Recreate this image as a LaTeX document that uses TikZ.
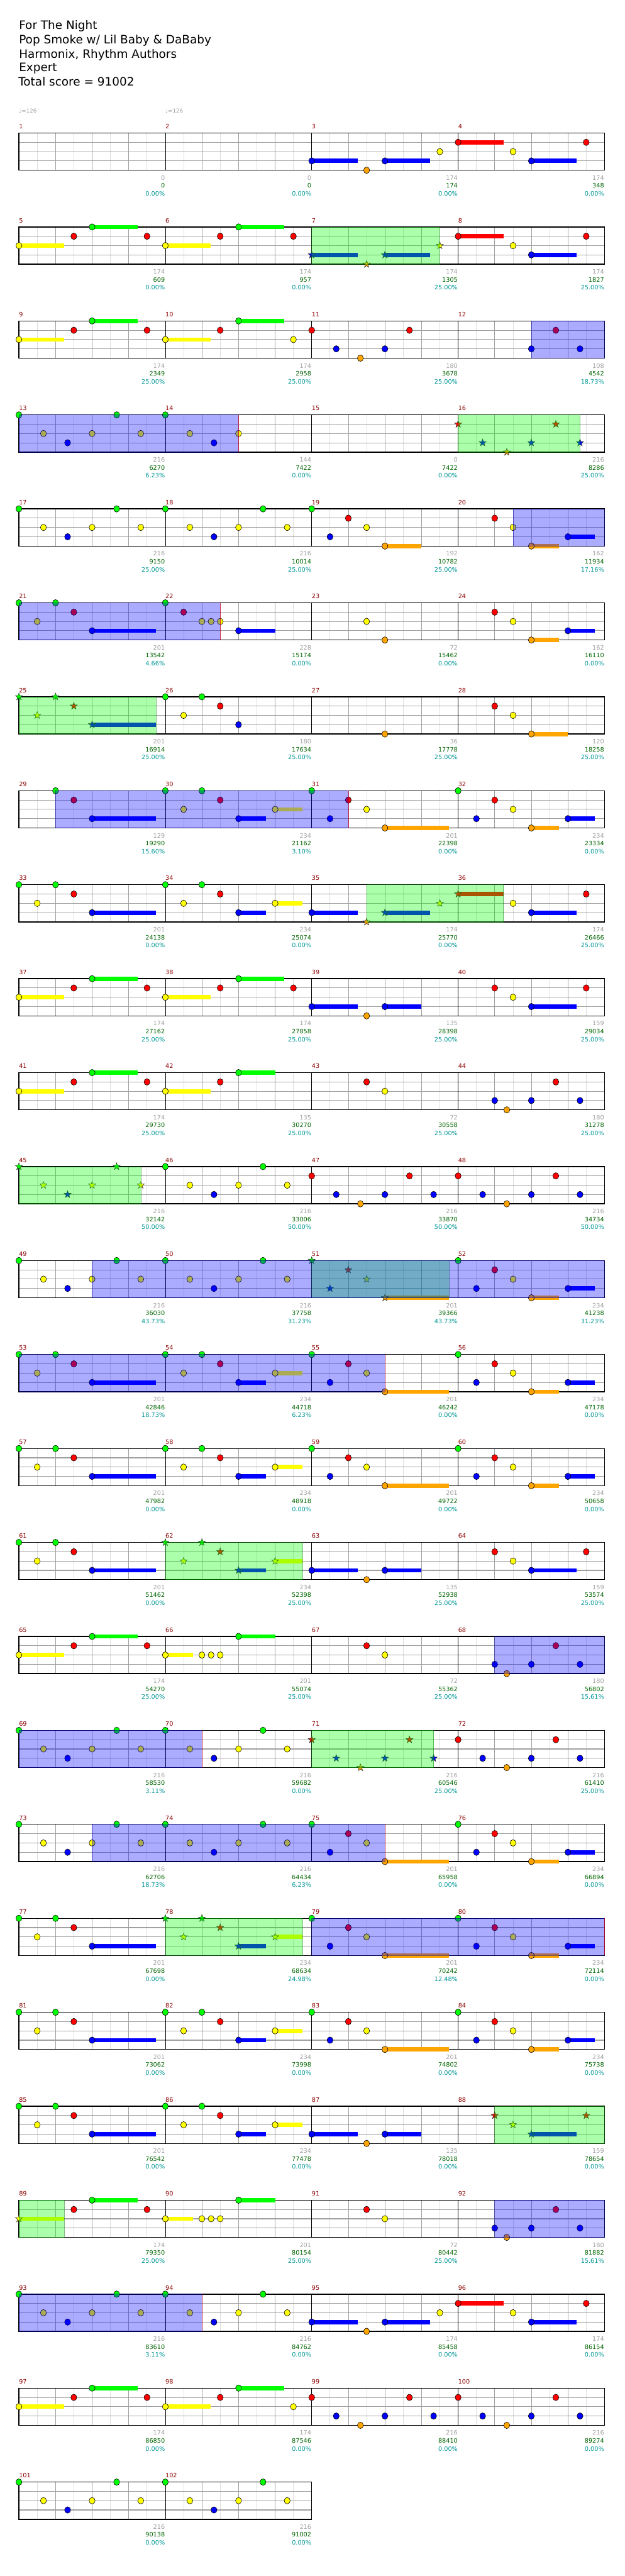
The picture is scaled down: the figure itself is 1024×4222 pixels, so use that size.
\documentclass[tikz,border=0pt]{standalone}
\usepackage{fontspec}
\setmainfont{DejaVu Sans}

\definecolor{fretG}{RGB}{0,255,0}
\definecolor{fretR}{RGB}{255,0,0}
\definecolor{fretY}{RGB}{255,255,0}
\definecolor{fretB}{RGB}{0,0,255}
\definecolor{fretO}{RGB}{255,165,0}
\definecolor{barred}{RGB}{139,0,0}
\definecolor{ptgray}{RGB}{160,160,160}
\definecolor{ptgreen}{RGB}{0,100,0}
\definecolor{ptteal}{RGB}{0,150,150}
\definecolor{gridgray}{RGB}{160,160,160}
\definecolor{gridlight}{RGB}{222,222,222}

% lane of each fret (0 = top line)
\def\laneG{0}\def\laneR{1}\def\laneY{2}\def\laneB{3}\def\laneO{4}

\tikzset{
  title/.style={anchor=base west, inner sep=0pt, font=\fontsize{19}{23}\selectfont},
  tempo/.style={anchor=base west, inner sep=0pt, text=ptgray, font=\fontsize{9}{11}\selectfont},
  barnum/.style={anchor=base west, inner sep=0pt, yshift=7pt, text=barred,
                 font=\fontsize{10}{12}\selectfont},
  pts/.style={anchor=base east, inner sep=0pt, xshift=-0.5pt, font=\fontsize{10}{12}\selectfont},
  halfbeat/.style={draw=gridlight, line width=0.8pt},
  beatline/.style={draw=gridgray, line width=0.8pt},
  laneline/.style={draw=gridgray, line width=1.1pt},
  barline/.style={draw=black, line width=0.8pt},
  staffframe/.style={draw=black, line width=1.4pt},
  gem/.style={draw=black, line width=0.6pt},
  spstar/.style={draw=black!85, line width=0.5pt},
  spzone/.style={fill=fretG, fill opacity=0.33, draw=green!45!black, draw opacity=0.5, line width=0.8pt},
  odzone/.style={fill=fretB, fill opacity=0.33, draw=blue!60!black, draw opacity=0.5, line width=0.8pt},
  odstop/.style={draw=red, line width=0.8pt, draw opacity=0.6},
  chartrow/.style={shift={(31,{218+154*(#1-1)})}, x=60pt, y=-15.25pt}
}

% one staff: #1 = beats in the row
\newcommand{\staff}[1]{%
  \foreach \x in {0.5,1.5,...,#1} \draw[halfbeat] (\x,0) -- (\x,4);
  \foreach \x in {1,...,#1} \draw[beatline] (\x,0) -- (\x,4);
  \foreach \y in {1,2,3} \draw[laneline] (0,\y) -- (#1,\y);
  \foreach \x in {4,8,...,#1} \draw[barline] (\x,0) -- (\x,4);
  \draw[staffframe] (0,0) rectangle (#1,4);}

\newcommand{\gem}[2]{\filldraw[gem, fill=fret#1] (#2,\csname lane#1\endcsname)
  ellipse [x radius=4.9pt, y radius=5.3pt];}
\newcommand{\tail}[3]{\fill[fret#1] ([yshift=3.5pt]#2,\csname lane#1\endcsname)
  rectangle ([yshift=-3.5pt]#3,\csname lane#1\endcsname);}
\newcommand{\spgem}[2]{\filldraw[spstar, fill=fret#1, shift={(#2,\csname lane#1\endcsname)}]
  (90:6.2pt) -- (126:2.5pt) -- (162:6.2pt) -- (198:2.5pt) -- (234:6.2pt) -- (270:2.5pt)
  -- (306:6.2pt) -- (342:2.5pt) -- (18:6.2pt) -- (54:2.5pt) -- cycle;}

\newcommand{\gems}[1]{\foreach \fr/\bt in {#1}{\gem{\fr}{\bt}}}
\newcommand{\tails}[1]{\foreach \fr/\from/\upto in {#1}{\tail{\fr}{\from}{\upto}}}
\newcommand{\spgems}[1]{\foreach \fr/\bt in {#1}{\spgem{\fr}{\bt}}}
\newcommand{\spphrase}[2]{\filldraw[spzone] (#1,0) rectangle (#2,4);}
\newcommand{\odrun}[2]{\filldraw[odzone] (#1,0) rectangle (#2,4);}
\newcommand{\odend}[1]{\draw[odstop] (#1,0) -- (#1,4);}

% bar numbers above, scores below
\newcommand{\bars}[2]{\foreach \c in {1,...,#2}{%
  \pgfmathtruncatemacro\m{#1+\c-1}\node[barnum] (bar\m) at ({4*(\c-1)},0) {\m};}}
\newcommand{\points}[2]{\foreach \gain/\total/\pct [count=\c] in {#2}{%
  \pgfmathtruncatemacro\m{#1+\c-1}
  \node[pts, text=ptgray, yshift=-16pt] (gain\m) at (4*\c,4) {\gain};
  \node[pts, text=ptgreen, yshift=-29pt] (total\m) at (4*\c,4) {\total};
  \node[pts, text=ptteal, yshift=-42pt] (pct\m) at (4*\c,4) {\pct\%};}}

\begin{document}
\begin{tikzpicture}[x=1pt, y=-1pt]
  \fill[white] (0,0) rectangle (1024,4222);
  \path[use as bounding box] (0,0) rectangle (1024,4222);

  % header
  \node[title] (song) at (31,48) {For The Night};
  \node[title] (artist) at (31,71.5) {Pop Smoke w/ Lil Baby \& DaBaby};
  \node[title] (charter) at (31,95) {Harmonix, Rhythm Authors};
  \node[title] (level) at (31,117.5) {Expert};
  \node[title] (score) at (30,141) {Total score = 91002};
  \node[tempo] (tempo1) at (31,185) {♩=126};
  \node[tempo] (tempo2) at (271,185) {♩=126};

  % bars 1-4
  \begin{scope}[chartrow=1]
    \staff{16}
    \tails{B/8/9.25, B/10/11.24, R/12/13.24, B/14/15.24}
    \gems{B/8, O/9.5, B/10, Y/11.5, R/12, Y/13.5, B/14, R/15.5}
    \bars{1}{4}
    \points{1}{0/0/0.00, 0/0/0.00, 174/174/0.00, 174/348/0.00}
  \end{scope}

  % bars 5-8
  \begin{scope}[chartrow=2]
    \staff{16}
    \tails{Y/0/1.24, G/2/3.24, Y/4/5.24, G/6/7.24, B/8/9.25, B/10/11.24, R/12/13.24, B/14/15.24}
    \gems{Y/0, R/1.5, G/2, R/3.5, Y/4, R/5.5, G/6, R/7.5, R/12, Y/13.5, B/14, R/15.5}
    \spgems{B/8, O/9.5, B/10, Y/11.5}
    \spphrase{8}{11.5}
    \bars{5}{4}
    \points{5}{174/609/0.00, 174/957/0.00, 174/1305/25.00, 174/1827/25.00}
  \end{scope}

  % bars 9-12
  \begin{scope}[chartrow=3]
    \staff{16}
    \tails{Y/0/1.24, G/2/3.24, Y/4/5.24, G/6/7.24}
    \gems{Y/0, R/1.5, G/2, R/3.5, Y/4, R/5.5, G/6, Y/7.5, R/8, B/8.67, O/9.33, B/10, R/10.67,
          B/14, R/14.67, B/15.33}
    \odrun{14}{16}
    \bars{9}{4}
    \points{9}{174/2349/25.00, 174/2958/25.00, 180/3678/25.00, 108/4542/18.73}
  \end{scope}

  % bars 13-16
  \begin{scope}[chartrow=4]
    \staff{16}
    \gems{G/0, Y/0.67, B/1.33, Y/2, G/2.67, Y/3.33, G/4, Y/4.67, B/5.33, Y/6}
    \spgems{R/12, B/12.67, O/13.33, B/14, R/14.67, B/15.33}
    \spphrase{12}{15.33}
    \odrun{0}{6}\odend{6}
    \bars{13}{4}
    \points{13}{216/6270/6.23, 144/7422/0.00, 0/7422/0.00, 216/8286/25.00}
  \end{scope}

  % bars 17-20
  \begin{scope}[chartrow=5]
    \staff{16}
    \tails{O/10/11, O/14/14.75, B/15/15.74}
    \gems{G/0, Y/0.67, B/1.33, Y/2, G/2.67, Y/3.33, G/4, Y/4.67, B/5.33, Y/6, G/6.67, Y/7.33,
          G/8, B/8.5, R/9, Y/9.5, O/10, R/13, Y/13.5, O/14, B/15}
    \odrun{13.5}{16}
    \bars{17}{4}
    \points{17}{216/9150/25.00, 216/10014/25.00, 192/10782/25.00, 162/11934/17.16}
  \end{scope}

  % bars 21-24
  \begin{scope}[chartrow=6]
    \staff{16}
    \tails{B/2/3.75, B/6/7, O/14/14.75, B/15/15.74}
    \gems{G/0, Y/0.5, G/1, R/1.5, B/2, G/4, R/4.5, Y/5, Y/5.25, Y/5.5, B/6, Y/9.5, O/10,
          R/13, Y/13.5, O/14, B/15}
    \odrun{0}{5.5}\odend{5.5}
    \bars{21}{4}
    \points{21}{201/13542/4.66, 228/15174/0.00, 72/15462/0.00, 162/16110/0.00}
  \end{scope}

  % bars 25-28
  \begin{scope}[chartrow=7]
    \staff{16}
    \tails{B/2/3.75, O/14/15}
    \gems{G/4, Y/4.5, G/5, R/5.5, B/6, O/10, R/13, Y/13.5, O/14}
    \spgems{G/0, Y/0.5, G/1, R/1.5, B/2}
    \spphrase{0}{3.75}
    \bars{25}{4}
    \points{25}{201/16914/25.00, 180/17634/25.00, 36/17778/25.00, 120/18258/25.00}
  \end{scope}

  % bars 29-32
  \begin{scope}[chartrow=8]
    \staff{16}
    \tails{B/2/3.75, B/6/6.75, Y/7/7.75, O/10/11.75, O/14/14.75, B/15/15.74}
    \gems{G/1, R/1.5, B/2, G/4, Y/4.5, G/5, R/5.5, B/6, Y/7, G/8, B/8.5, R/9, Y/9.5, O/10,
          G/12, B/12.5, R/13, Y/13.5, O/14, B/15}
    \odrun{1}{9}\odend{9}
    \bars{29}{4}
    \points{29}{129/19290/15.60, 234/21162/3.10, 201/22398/0.00, 234/23334/0.00}
  \end{scope}

  % bars 33-36
  \begin{scope}[chartrow=9]
    \staff{16}
    \tails{B/2/3.75, B/6/6.75, Y/7/7.75, B/8/9.25, B/10/11.24, R/12/13.24, B/14/15.24}
    \gems{G/0, Y/0.5, G/1, R/1.5, B/2, G/4, Y/4.5, G/5, R/5.5, B/6, Y/7, B/8, Y/13.5, B/14, R/15.5}
    \spgems{O/9.5, B/10, Y/11.5, R/12}
    \spphrase{9.5}{13.24}
    \bars{33}{4}
    \points{33}{201/24138/0.00, 234/25074/0.00, 174/25770/0.00, 174/26466/25.00}
  \end{scope}

  % bars 37-40
  \begin{scope}[chartrow=10]
    \staff{16}
    \tails{Y/0/1.24, G/2/3.24, Y/4/5.24, G/6/7.24, B/8/9.25, B/10/11, B/14/15.24}
    \gems{Y/0, R/1.5, G/2, R/3.5, Y/4, R/5.5, G/6, R/7.5, B/8, O/9.5, B/10, R/13, Y/13.5, B/14, R/15.5}
    \bars{37}{4}
    \points{37}{174/27162/25.00, 174/27858/25.00, 135/28398/25.00, 159/29034/25.00}
  \end{scope}

  % bars 41-44
  \begin{scope}[chartrow=11]
    \staff{16}
    \tails{Y/0/1.24, G/2/3.24, Y/4/5.24, G/6/7}
    \gems{Y/0, R/1.5, G/2, R/3.5, Y/4, R/5.5, G/6, R/9.5, Y/10, B/13, O/13.33, B/14, R/14.67, B/15.33}
    \bars{41}{4}
    \points{41}{174/29730/25.00, 135/30270/25.00, 72/30558/25.00, 180/31278/25.00}
  \end{scope}

  % bars 45-48
  \begin{scope}[chartrow=12]
    \staff{16}
    \gems{G/4, Y/4.67, B/5.33, Y/6, G/6.67, Y/7.33, R/8, B/8.67, O/9.33, B/10, R/10.67, B/11.33,
          R/12, B/12.67, O/13.33, B/14, R/14.67, B/15.33}
    \spgems{G/0, Y/0.67, B/1.33, Y/2, G/2.67, Y/3.33}
    \spphrase{0}{3.33}
    \bars{45}{4}
    \points{45}{216/32142/50.00, 216/33006/50.00, 216/33870/50.00, 216/34734/50.00}
  \end{scope}

  % bars 49-52
  \begin{scope}[chartrow=13]
    \staff{16}
    \tails{O/10/11.75, O/14/14.75, B/15/15.74}
    \gems{G/0, Y/0.67, B/1.33, Y/2, G/2.67, Y/3.33, G/4, Y/4.67, B/5.33, Y/6, G/6.67, Y/7.33,
          G/12, B/12.5, R/13, Y/13.5, O/14, B/15}
    \spgems{G/8, B/8.5, R/9, Y/9.5, O/10}
    \spphrase{8}{11.75}
    \odrun{2}{16}
    \bars{49}{4}
    \points{49}{216/36030/43.73, 216/37758/31.23, 201/39366/43.73, 234/41238/31.23}
  \end{scope}

  % bars 53-56
  \begin{scope}[chartrow=14]
    \staff{16}
    \tails{B/2/3.75, B/6/6.75, Y/7/7.75, O/10/11.75, O/14/14.75, B/15/15.74}
    \gems{G/0, Y/0.5, G/1, R/1.5, B/2, G/4, Y/4.5, G/5, R/5.5, B/6, Y/7, G/8, B/8.5, R/9, Y/9.5,
          O/10, G/12, B/12.5, R/13, Y/13.5, O/14, B/15}
    \odrun{0}{10}\odend{10}
    \bars{53}{4}
    \points{53}{201/42846/18.73, 234/44718/6.23, 201/46242/0.00, 234/47178/0.00}
  \end{scope}

  % bars 57-60
  \begin{scope}[chartrow=15]
    \staff{16}
    \tails{B/2/3.75, B/6/6.75, Y/7/7.75, O/10/11.75, O/14/14.75, B/15/15.74}
    \gems{G/0, Y/0.5, G/1, R/1.5, B/2, G/4, Y/4.5, G/5, R/5.5, B/6, Y/7, G/8, B/8.5, R/9, Y/9.5,
          O/10, G/12, B/12.5, R/13, Y/13.5, O/14, B/15}
    \bars{57}{4}
    \points{57}{201/47982/0.00, 234/48918/0.00, 201/49722/0.00, 234/50658/0.00}
  \end{scope}

  % bars 61-64
  \begin{scope}[chartrow=16]
    \staff{16}
    \tails{B/2/3.75, B/6/6.75, Y/7/7.75, B/8/9.25, B/10/11, B/14/15.24}
    \gems{G/0, Y/0.5, G/1, R/1.5, B/2, B/8, O/9.5, B/10, R/13, Y/13.5, B/14, R/15.5}
    \spgems{G/4, Y/4.5, G/5, R/5.5, B/6, Y/7}
    \spphrase{4}{7.75}
    \bars{61}{4}
    \points{61}{201/51462/0.00, 234/52398/25.00, 135/52938/25.00, 159/53574/25.00}
  \end{scope}

  % bars 65-68
  \begin{scope}[chartrow=17]
    \staff{16}
    \tails{Y/0/1.24, G/2/3.24, Y/4/4.75, G/6/7}
    \gems{Y/0, R/1.5, G/2, R/3.5, Y/4, Y/5, Y/5.25, Y/5.5, G/6, R/9.5, Y/10,
          B/13, O/13.33, B/14, R/14.67, B/15.33}
    \odrun{13}{16}
    \bars{65}{4}
    \points{65}{174/54270/25.00, 201/55074/25.00, 72/55362/25.00, 180/56802/15.61}
  \end{scope}

  % bars 69-72
  \begin{scope}[chartrow=18]
    \staff{16}
    \gems{G/0, Y/0.67, B/1.33, Y/2, G/2.67, Y/3.33, G/4, Y/4.67, B/5.33, Y/6, G/6.67, Y/7.33,
          R/12, B/12.67, O/13.33, B/14, R/14.67, B/15.33}
    \spgems{R/8, B/8.67, O/9.33, B/10, R/10.67, B/11.33}
    \spphrase{8}{11.33}
    \odrun{0}{5}\odend{5}
    \bars{69}{4}
    \points{69}{216/58530/3.11, 216/59682/0.00, 216/60546/25.00, 216/61410/25.00}
  \end{scope}

  % bars 73-76
  \begin{scope}[chartrow=19]
    \staff{16}
    \tails{O/10/11.75, O/14/14.75, B/15/15.74}
    \gems{G/0, Y/0.67, B/1.33, Y/2, G/2.67, Y/3.33, G/4, Y/4.67, B/5.33, Y/6, G/6.67, Y/7.33,
          G/8, B/8.5, R/9, Y/9.5, O/10, G/12, B/12.5, R/13, Y/13.5, O/14, B/15}
    \odrun{2}{10}\odend{10}
    \bars{73}{4}
    \points{73}{216/62706/18.73, 216/64434/6.23, 201/65958/0.00, 234/66894/0.00}
  \end{scope}

  % bars 77-80
  \begin{scope}[chartrow=20]
    \staff{16}
    \tails{B/2/3.75, B/6/6.75, Y/7/7.75, O/10/11.75, O/14/14.75, B/15/15.74}
    \gems{G/0, Y/0.5, G/1, R/1.5, B/2, G/8, B/8.5, R/9, Y/9.5, O/10, G/12, B/12.5, R/13, Y/13.5,
          O/14, B/15}
    \spgems{G/4, Y/4.5, G/5, R/5.5, B/6, Y/7}
    \spphrase{4}{7.75}
    \odrun{8}{16}\odend{16}
    \bars{77}{4}
    \points{77}{201/67698/0.00, 234/68634/24.98, 201/70242/12.48, 234/72114/0.00}
  \end{scope}

  % bars 81-84
  \begin{scope}[chartrow=21]
    \staff{16}
    \tails{B/2/3.75, B/6/6.75, Y/7/7.75, O/10/11.75, O/14/14.75, B/15/15.74}
    \gems{G/0, Y/0.5, G/1, R/1.5, B/2, G/4, Y/4.5, G/5, R/5.5, B/6, Y/7, G/8, B/8.5, R/9, Y/9.5,
          O/10, G/12, B/12.5, R/13, Y/13.5, O/14, B/15}
    \bars{81}{4}
    \points{81}{201/73062/0.00, 234/73998/0.00, 201/74802/0.00, 234/75738/0.00}
  \end{scope}

  % bars 85-88
  \begin{scope}[chartrow=22]
    \staff{16}
    \tails{B/2/3.75, B/6/6.75, Y/7/7.75, B/8/9.25, B/10/11, B/14/15.24}
    \gems{G/0, Y/0.5, G/1, R/1.5, B/2, G/4, Y/4.5, G/5, R/5.5, B/6, Y/7, B/8, O/9.5, B/10}
    \spgems{R/13, Y/13.5, B/14, R/15.5}
    \spphrase{13}{16}
    \bars{85}{4}
    \points{85}{201/76542/0.00, 234/77478/0.00, 135/78018/0.00, 159/78654/0.00}
  \end{scope}

  % bars 89-92
  \begin{scope}[chartrow=23]
    \staff{16}
    \tails{Y/0/1.24, G/2/3.24, Y/4/4.75, G/6/7}
    \gems{R/1.5, G/2, R/3.5, Y/4, Y/5, Y/5.25, Y/5.5, G/6, R/9.5, Y/10,
          B/13, O/13.33, B/14, R/14.67, B/15.33}
    \spgems{Y/0}
    \spphrase{0}{1.24}
    \odrun{13}{16}
    \bars{89}{4}
    \points{89}{174/79350/25.00, 201/80154/25.00, 72/80442/25.00, 180/81882/15.61}
  \end{scope}

  % bars 93-96
  \begin{scope}[chartrow=24]
    \staff{16}
    \tails{B/8/9.25, B/10/11.24, R/12/13.24, B/14/15.24}
    \gems{G/0, Y/0.67, B/1.33, Y/2, G/2.67, Y/3.33, G/4, Y/4.67, B/5.33, Y/6, G/6.67, Y/7.33,
          B/8, O/9.5, B/10, Y/11.5, R/12, Y/13.5, B/14, R/15.5}
    \odrun{0}{5}\odend{5}
    \bars{93}{4}
    \points{93}{216/83610/3.11, 216/84762/0.00, 174/85458/0.00, 174/86154/0.00}
  \end{scope}

  % bars 97-100
  \begin{scope}[chartrow=25]
    \staff{16}
    \tails{Y/0/1.24, G/2/3.24, Y/4/5.24, G/6/7.24}
    \gems{Y/0, R/1.5, G/2, R/3.5, Y/4, R/5.5, G/6, Y/7.5, R/8, B/8.67, O/9.33, B/10, R/10.67,
          B/11.33, R/12, B/12.67, O/13.33, B/14, R/14.67, B/15.33}
    \bars{97}{4}
    \points{97}{174/86850/0.00, 174/87546/0.00, 216/88410/0.00, 216/89274/0.00}
  \end{scope}

  % bars 101-102
  \begin{scope}[chartrow=26]
    \staff{8}
    \gems{G/0, Y/0.67, B/1.33, Y/2, G/2.67, Y/3.33, G/4, Y/4.67, B/5.33, Y/6, G/6.67, Y/7.33}
    \bars{101}{2}
    \points{101}{216/90138/0.00, 216/91002/0.00}
  \end{scope}
\end{tikzpicture}
\end{document}
